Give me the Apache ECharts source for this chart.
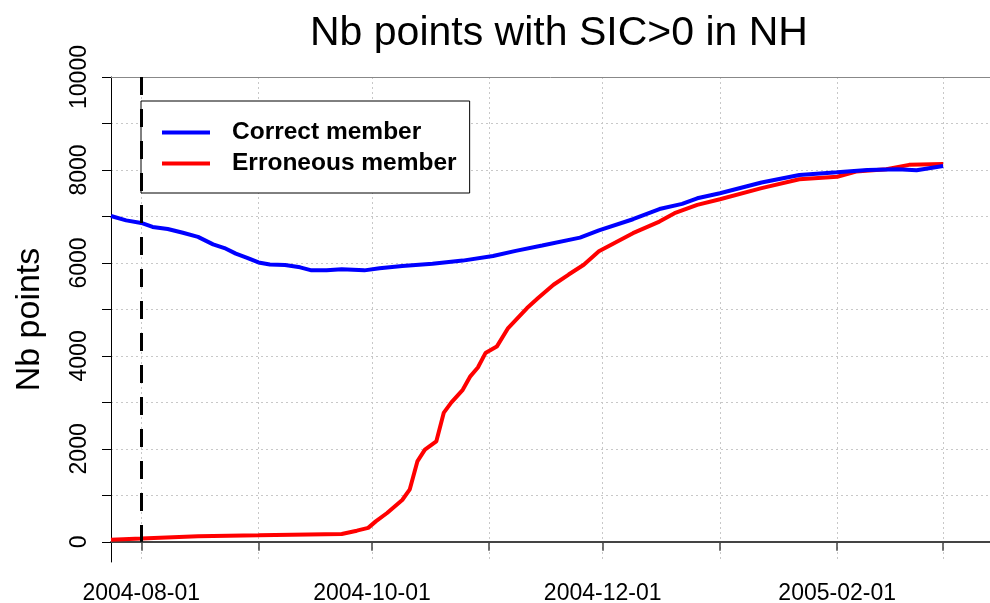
<!DOCTYPE html>
<html>
<head>
<meta charset="utf-8">
<script src="https://cdn.jsdelivr.net/npm/echarts@6/dist/echarts.min.js"></script>
<style>
  html, body { margin: 0; padding: 0; background: #fff; }
  #chart { width: 990px; height: 603px; }
</style>
</head>
<body>
<div id="chart"></div>
<script>
// values
const correctDates = ['2004-07-24','2004-07-28','2004-08-01','2004-08-04','2004-08-08','2004-08-12','2004-08-16','2004-08-20','2004-08-23','2004-08-26','2004-08-29','2004-09-01','2004-09-04','2004-09-08','2004-09-12','2004-09-15','2004-09-19','2004-09-23','2004-09-29','2004-10-03','2004-10-09','2004-10-17','2004-10-25','2004-11-02','2004-11-08','2004-11-15','2004-11-25','2004-11-30','2004-12-09','2004-12-16','2004-12-22','2004-12-26','2005-01-01','2005-01-12','2005-01-22','2005-02-01','2005-02-09','2005-02-17','2005-02-22','2005-03-01'];
const correctValues = [7010,6915,6860,6775,6730,6650,6560,6400,6320,6200,6110,6010,5965,5955,5905,5840,5840,5865,5840,5885,5935,5980,6050,6150,6260,6375,6545,6700,6940,7160,7270,7390,7500,7730,7890,7950,8000,8015,7995,8085];

const wrongDates = ['2004-07-24','2004-08-01','2004-08-16','2004-09-01','2004-09-23','2004-09-27','2004-09-30','2004-10-02','2004-10-05','2004-10-09','2004-10-11','2004-10-13','2004-10-15','2004-10-18','2004-10-20','2004-10-22','2004-10-25','2004-10-27','2004-10-29','2004-10-31','2004-11-03','2004-11-06','2004-11-11','2004-11-14','2004-11-18','2004-11-22','2004-11-26','2004-11-30','2004-12-03','2004-12-09','2004-12-16','2004-12-20','2004-12-26','2005-01-01','2005-01-12','2005-01-22','2005-02-01','2005-02-06','2005-02-14','2005-02-20','2005-03-01'];
const wrongValues = [45,70,120,140,170,240,300,440,620,900,1130,1730,1985,2160,2780,3000,3270,3560,3750,4060,4200,4600,5030,5250,5530,5750,5960,6250,6380,6640,6890,7070,7250,7370,7610,7800,7855,7965,8015,8110,8130];

const monthTicks = ['2004-08-01','2004-09-01','2004-10-01','2004-11-01','2004-12-01','2005-01-01','2005-02-01','2005-03-01'];
const monthLabels = ['2004-08-01','2004-10-01','2004-12-01','2005-02-01'];
const yTicks = [0,1000,2000,3000,4000,5000,6000,7000,8000,9000,10000];
const yLabels = [0,2000,4000,6000,8000,10000];
const eventDate = '2004-08-01';

const DAY = 86400000;
const t = s => +echarts.time.parse(s);
const pairs = (ds, vs) => ds.map((d, i) => [t(d), vs[i]]);

const font = 'Liberation Sans';
const chart = echarts.init(document.getElementById('chart'));

chart.setOption({
  animation: false,
  title: {
    text: 'Nb points with SIC>0 in NH',
    left: 305,
    top: 8,
    textStyle: { fontFamily: font, fontSize: 41, fontWeight: 'normal', color: '#000' }
  },
  legend: {
    data: ['Correct member', 'Erroneous member'],
    orient: 'vertical',
    left: 141,
    top: 101,
    icon: 'rect',
    itemWidth: 48,
    itemHeight: 4,
    itemGap: 6,
    padding: [19, 13, 17, 21],
    backgroundColor: '#fff',
    borderColor: '#000',
    borderWidth: 1,
    textStyle: { fontFamily: font, fontSize: 24.5, fontWeight: 'bold', color: '#000', padding: [0, 0, 0, 17] }
  },
  grid: { left: 111, right: 0, top: 77, bottom: 41, outerBoundsMode: 'none' },
  xAxis: {
    type: 'value',
    min: t('2004-07-24'),
    max: t('2004-07-24') + 232.4 * DAY,
    axisLine: { lineStyle: { color: '#444', width: 2 } },
    axisTick: { length: 9, lineStyle: { color: '#444', width: 1.5 }, customValues: monthTicks.map(t) },
    axisLabel: {
      customValues: monthLabels.map(t),
      formatter: v => echarts.time.format(v, '{yyyy}-{MM}-{dd}', false),
      fontFamily: font, fontSize: 23, color: '#000', margin: 20
    },
    splitLine: { show: true, lineStyle: { color: '#c8c8c8', type: [2, 3], width: 1 } }
  },
  yAxis: {
    type: 'value',
    min: -434,
    max: 10000,
    name: 'Nb points',
    nameLocation: 'middle',
    nameRotate: 90,
    nameGap: 64,
    nameTextStyle: { fontFamily: font, fontSize: 34, color: '#000' },
    axisLine: { show: true, lineStyle: { color: '#000', width: 1 } },
    axisTick: { show: true, length: 9, lineStyle: { color: '#000' }, customValues: yTicks },
    axisLabel: {
      customValues: yLabels,
      formatter: v => String(v),
      rotate: 90, fontFamily: font, fontSize: 23, color: '#000', margin: 20
    },
    splitLine: { show: true, lineStyle: { color: '#c8c8c8', type: [2, 3], width: 1 } }
  },
  series: [
    {
      name: 'Erroneous member',
      type: 'line',
      data: pairs(wrongDates, wrongValues),
      showSymbol: false,
      lineStyle: { color: '#ff0000', width: 4 },
      itemStyle: { color: '#ff0000' },
      markLine: {
        silent: true,
        symbol: 'none',
        label: { show: false },
        lineStyle: { color: '#888', type: 'solid', width: 1 },
        data: [{ yAxis: 10000 }]
      }
    },
    {
      name: 'Correct member',
      type: 'line',
      data: pairs(correctDates, correctValues),
      showSymbol: false,
      lineStyle: { color: '#0000ff', width: 4 },
      itemStyle: { color: '#0000ff' },
      markLine: {
        silent: true,
        symbol: 'none',
        label: { show: false },
        lineStyle: { color: '#000', type: [18, 14], width: 3 },
        data: [[{ coord: [t(eventDate), 10000] }, { coord: [t(eventDate), 0] }]]
      }
    }
  ]
});
</script>
</body>
</html>
